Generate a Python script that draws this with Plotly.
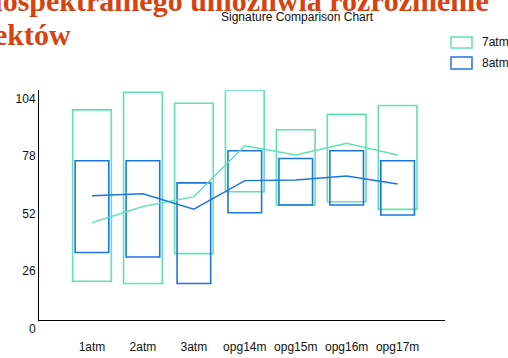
import plotly.graph_objects as go

# Signature statistics per sample: min/max envelope and mean
categories = ["1atm", "2atm", "3atm", "opg14m", "opg15m", "opg16m", "opg17m"]

atm7_min = [17.5, 16.5, 30.0, 58.0, 52.0, 53.5, 50.0]
atm7_max = [95.0, 103.0, 98.0, 104.0, 86.0, 93.0, 97.0]
atm7_mean = [44.0, 51.3, 55.8, 78.8, 74.6, 79.9, 74.6]

atm8_min = [30.5, 28.5, 16.5, 48.5, 52.0, 52.0, 47.5]
atm8_max = [72.0, 72.0, 62.0, 76.5, 73.0, 76.5, 72.0]
atm8_mean = [56.2, 57.1, 50.1, 63.0, 63.3, 65.1, 61.5]

y_ticks = [0, 26, 52, 78, 104]

GREEN = "rgb(96,226,178)"
BLUE = "rgb(30,118,220)"
RED = "rgb(214,66,16)"
FONT = "Liberation Sans, Arial, sans-serif"

W, H = 508, 358
L, R, T, B = 39, 63, 90, 38
PW, PH = W - L - R, H - T - B


def px_x(px):
    return (px - L) / PW


def px_y(py):
    return (H - B - py) / PH


fig = go.Figure()

fig.add_trace(go.Bar(
    x=categories,
    y=[hi - lo for lo, hi in zip(atm7_min, atm7_max)],
    base=atm7_min,
    width=0.76,
    marker=dict(color="rgba(0,0,0,0)", line=dict(color=GREEN, width=1.6)),
    cliponaxis=False,
    name="7atm",
))
fig.add_trace(go.Bar(
    x=categories,
    y=[hi - lo for lo, hi in zip(atm8_min, atm8_max)],
    base=atm8_min,
    width=0.66,
    marker=dict(color="rgba(0,0,0,0)", line=dict(color=BLUE, width=1.6)),
    cliponaxis=False,
    name="8atm",
))
fig.add_trace(go.Scatter(
    x=categories, y=atm7_mean, mode="lines",
    line=dict(color=GREEN, width=1.4), name="7atm mean",
))
fig.add_trace(go.Scatter(
    x=categories, y=atm8_mean, mode="lines",
    line=dict(color=BLUE, width=1.4), name="8atm mean",
))

# Hand-drawn legend boxes
shapes = [
    dict(type="rect", xref="paper", yref="paper",
         x0=px_x(451), x1=px_x(472), y0=px_y(48), y1=px_y(37),
         line=dict(color=GREEN, width=1.5), fillcolor="white"),
    dict(type="rect", xref="paper", yref="paper",
         x0=px_x(451), x1=px_x(472), y0=px_y(69), y1=px_y(57),
         line=dict(color=BLUE, width=1.5), fillcolor="white"),
]

annotations = [
    dict(text="Signature Comparison Chart", xref="paper", yref="paper",
         x=px_x(297), y=px_y(17), xanchor="center", yanchor="middle",
         showarrow=False, font=dict(family=FONT, size=12, color="#111")),
    dict(text="7atm", xref="paper", yref="paper",
         x=px_x(480), y=px_y(42.5), xanchor="left", yanchor="middle",
         showarrow=False, font=dict(family=FONT, size=12, color="#111")),
    dict(text="8atm", xref="paper", yref="paper",
         x=px_x(480), y=px_y(63), xanchor="left", yanchor="middle",
         showarrow=False, font=dict(family=FONT, size=12, color="#111")),
    dict(text="<b>wielospektralnego umożliwia rozróżnienie</b>",
         xref="paper", yref="paper", x=px_x(-49), y=px_y(0),
         xanchor="left", yanchor="middle", showarrow=False,
         borderpad=0, borderwidth=0,
         font=dict(family="Liberation Serif, Times New Roman, serif", size=30, color=RED)),
    dict(text="<b>obiektów</b>",
         xref="paper", yref="paper", x=px_x(71), y=px_y(34),
         xanchor="right", yanchor="middle", showarrow=False,
         borderpad=0, borderwidth=0,
         font=dict(family="Liberation Serif, Times New Roman, serif", size=30, color=RED)),
]

fig.update_layout(
    width=W, height=H,
    margin=dict(l=L, r=R, t=T, b=B, pad=0, autoexpand=False),
    paper_bgcolor="white", plot_bgcolor="white",
    barmode="overlay",
    showlegend=False,
    shapes=shapes,
    annotations=annotations,
    font=dict(family=FONT, size=12, color="#111"),
)
fig.update_xaxes(
    type="category", categoryorder="array", categoryarray=categories,
    range=[-1.04, 6.93], automargin=False,
    showline=True, linecolor="black", linewidth=1,
    showgrid=False, zeroline=False, ticks="",
    ticklabelstandoff=16,
    tickfont=dict(family=FONT, size=12, color="#111"),
)
fig.update_yaxes(
    range=[0, 104], tickvals=y_ticks, ticktext=[str(v) for v in y_ticks],
    automargin=False,
    showline=True, linecolor="black", linewidth=1,
    showgrid=False, zeroline=False, ticks="",
    ticklabelposition="outside bottom",
    tickfont=dict(family=FONT, size=12, color="#111"),
)

fig.write_html("out.html")
